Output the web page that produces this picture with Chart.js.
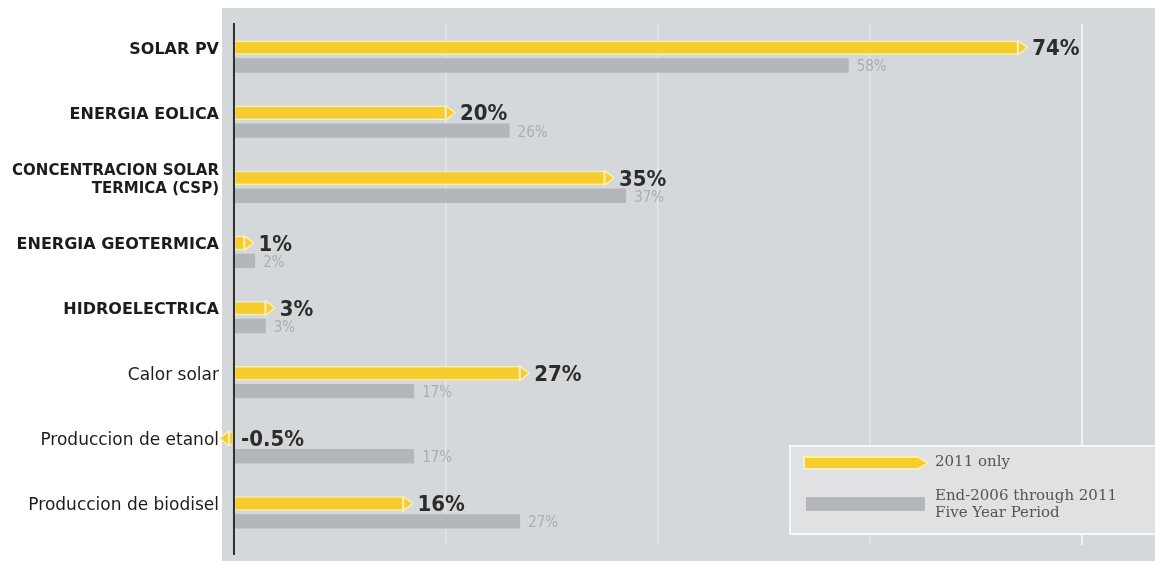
<!DOCTYPE html>
<html>
<head>
<meta charset="utf-8">
<script src="https://cdn.jsdelivr.net/npm/chart.js@4/dist/chart.umd.min.js"></script>
<style>
  body { margin: 0; background: #fff; }
  #wrap { width: 1155px; height: 561px; }
</style>
</head>
<body>
<div id="wrap"><canvas id="myChart" width="1155" height="561"></canvas></div>
<script>
var categories = [
  'SOLAR PV',
  'ENERGIA EOLICA',
  ['CONCENTRACION SOLAR', 'TERMICA (CSP)'],
  'ENERGIA GEOTERMICA',
  'HIDROELECTRICA',
  'Calor solar',
  'Produccion de etanol',
  'Produccion de biodisel'
];
var only2011 = [74, 20, 35, 1, 3, 27, -0.5, 16];
var fiveYear = [58, 26, 37, 2, 3, 17, 17, 27];
var seriesNames = ['2011 only', 'End-2006 through 2011\nFive Year Period'];

var YELLOW = '#f5cd2f', YELLOW_EDGE = '#fcefb2', GREY = '#b3b6bb';

// grey panel behind the plot, zero axis line
var panelPlugin = {
  id: 'panel',
  beforeDraw: function(chart) {
    var c = chart.ctx, a = chart.chartArea;
    c.save();
    c.fillStyle = '#fff';
    c.fillRect(0, 0, chart.width, chart.height);
    c.fillStyle = '#d4d8db';
    c.fillRect(a.left, 8, chart.width - a.left, chart.height - 8);
    c.restore();
  },
  afterDatasetsDraw: function(chart) {
    var c = chart.ctx, a = chart.chartArea;
    var x0 = chart.scales.x.getPixelForValue(0);
    c.save();
    c.strokeStyle = '#2f2f2f';
    c.lineWidth = 2;
    c.beginPath();
    c.moveTo(x0, a.top - 1);
    c.lineTo(x0, a.bottom + 10);
    c.stroke();
    c.restore();
  }
};

// arrow tips on the 2011 bars + value labels
var labelPlugin = {
  id: 'valueLabels',
  afterDatasetsDraw: function(chart) {
    var c = chart.ctx;
    var x0 = chart.scales.x.getPixelForValue(0);
    c.save();
    chart.getDatasetMeta(0).data.forEach(function(bar, i) {
      var v = only2011[i], h = bar.height / 2, dir = v < 0 ? -1 : 1;
      c.fillStyle = YELLOW;
      c.strokeStyle = YELLOW_EDGE;
      c.lineWidth = 1.5;
      c.beginPath();
      c.moveTo(bar.x, bar.y - h);
      c.lineTo(bar.x + dir * 9, bar.y);
      c.lineTo(bar.x, bar.y + h);
      c.closePath();
      c.fill();
      c.stroke();
      c.fillStyle = '#2c2c2c';
      c.font = 'bold 22px "DejaVu Sans Condensed", "Liberation Sans Narrow", sans-serif';
      c.textBaseline = 'middle';
      c.textAlign = 'left';
      var tx = v < 0 ? x0 + 7 : bar.x + 14;
      c.fillText(v + '%', tx, bar.y + 2);
    });
    chart.getDatasetMeta(1).data.forEach(function(bar, i) {
      c.fillStyle = '#a9adb2';
      c.font = '15px "DejaVu Sans Condensed", "Liberation Sans Narrow", sans-serif';
      c.textBaseline = 'middle';
      c.textAlign = 'left';
      c.fillText(fiveYear[i] + '%', bar.x + 8, bar.y + 2);
    });
    c.restore();
  }
};

// legend box in the lower right corner
var legendPlugin = {
  id: 'boxLegend',
  afterDraw: function(chart) {
    var c = chart.ctx;
    c.save();
    c.fillStyle = '#dfe1e3';
    c.strokeStyle = 'rgba(250,251,252,0.9)';
    c.lineWidth = 2;
    c.fillRect(790, 446, 370, 88);
    c.strokeRect(790, 446, 370, 88);

    c.fillStyle = YELLOW;
    c.strokeStyle = YELLOW_EDGE;
    c.lineWidth = 2;
    c.beginPath();
    c.moveTo(804, 457);
    c.lineTo(918, 457);
    c.lineTo(928, 463);
    c.lineTo(918, 469);
    c.lineTo(804, 469);
    c.closePath();
    c.fill();
    c.stroke();

    c.fillStyle = GREY;
    c.fillRect(806, 497, 119, 14);

    c.fillStyle = '#555';
    c.font = '15px "DejaVu Serif", "Liberation Serif", serif';
    c.textBaseline = 'middle';
    c.textAlign = 'left';
    c.fillText(seriesNames[0], 935, 462);
    var lines = seriesNames[1].split('\n');
    c.fillText(lines[0], 935, 496);
    c.fillText(lines[1], 935, 513);
    c.restore();
  }
};

var ctx = document.getElementById('myChart').getContext('2d');
var chart = new Chart(ctx, {
  type: 'bar',
  data: {
    labels: categories,
    datasets: [{
      label: seriesNames[0],
      data: only2011,
      backgroundColor: YELLOW,
      borderColor: YELLOW_EDGE,
      borderWidth: 1.5,
      borderSkipped: false,
      barPercentage: 0.8
    }, {
      label: seriesNames[1],
      data: fiveYear,
      backgroundColor: GREY,
      borderWidth: 0,
      barPercentage: 0.8
    }]
  },
  options: {
    indexAxis: 'y',
    responsive: false,
    animation: false,
    categoryPercentage: 0.55,
    layout: { padding: { top: 24, bottom: 16, left: 0, right: 0 } },
    plugins: {
      legend: { display: false },
      tooltip: { enabled: false }
    },
    scales: {
      x: {
        min: -1.13,
        max: 86.9,
        afterFit: function(s) { s.height = 0; },
        border: { display: false },
        ticks: { display: false, stepSize: 20 },
        grid: {
          drawTicks: false,
          lineWidth: function(c) { return c.tick && c.tick.value === 80 ? 2 : 1.5; },
          color: function(c) {
            var v = c.tick ? c.tick.value : null;
            if (v === 80) return '#f0f2f4';
            if (v === 20 || v === 40 || v === 60) return 'rgba(255,255,255,0.35)';
            return 'rgba(0,0,0,0)';
          }
        }
      },
      y: {
        afterFit: function(s) { s.width = 222; },
        border: { display: false },
        grid: { display: false, drawTicks: false },
        ticks: {
          color: '#1c1c1c',
          padding: 3,
          labelOffset: -7,
          font: function(c) {
            if (c.index === 2) return { family: '"DejaVu Sans", sans-serif', size: 15, weight: 'bold' };
            return c.index < 5
              ? { family: '"DejaVu Sans", sans-serif', size: 16, weight: 'bold' }
              : { family: '"DejaVu Sans", sans-serif', size: 17, weight: 'normal' };
          }
        }
      }
    }
  },
  plugins: [panelPlugin, labelPlugin, legendPlugin]
});
</script>
</body>
</html>
